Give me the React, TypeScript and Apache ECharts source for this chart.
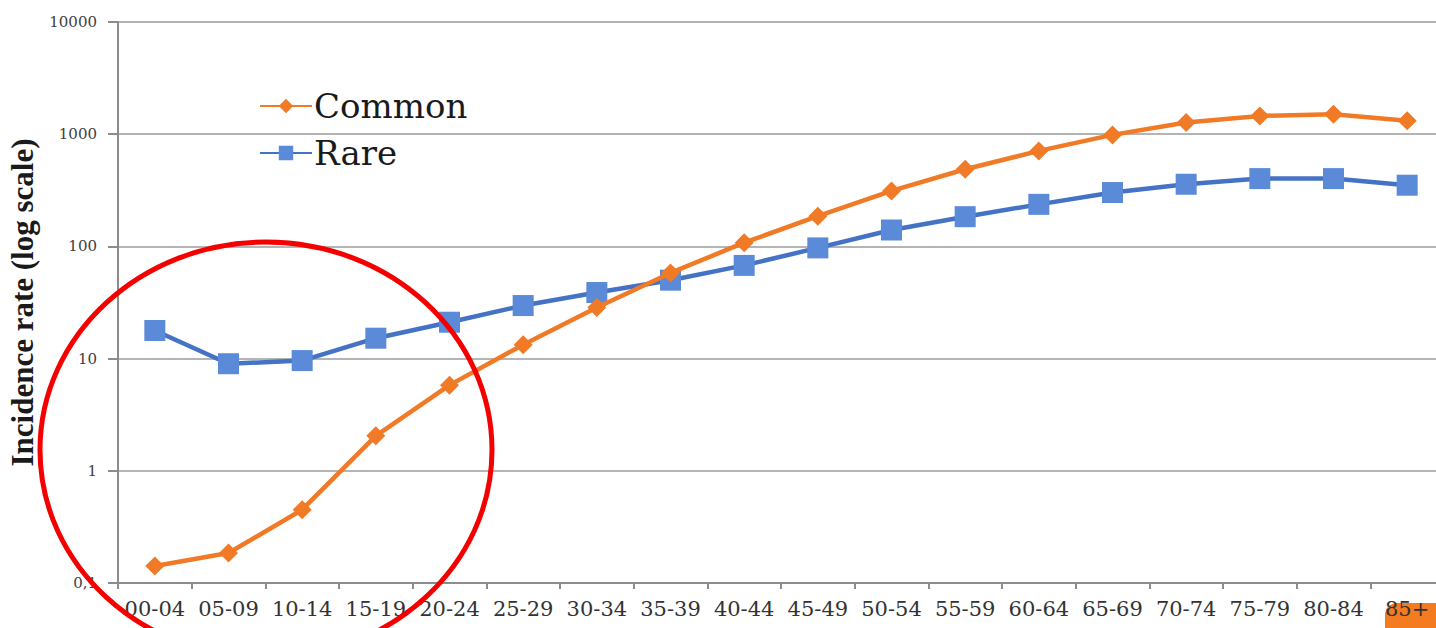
import React, { useEffect, useRef } from "react";
import * as echarts from "echarts";

const categories = [
  "00-04", "05-09", "10-14", "15-19", "20-24", "25-29", "30-34", "35-39", "40-44",
  "45-49", "50-54", "55-59", "60-64", "65-69", "70-74", "75-79", "80-84", "85+",
];
const commonValues = [
  0.142, 0.185, 0.45, 2.05, 5.8, 13.3, 28.5, 58, 108, 186, 312, 487, 710, 986, 1271, 1456, 1509, 1315,
];
const rareValues = [
  17.8, 9.0, 9.6, 15.2, 21.1, 29.7, 38.8, 50, 67.7, 97, 140, 184, 237, 302, 358, 402, 402, 351,
];
const seriesNames = ["Common", "Rare"];
const yAxisTitle = "Incidence rate (log scale)";

const ORANGE = "#F07A26";
const BLUE = "#4472C4";
const BLUE_MARK = "#5A8AD8";

export default function App() {
  const ref = useRef<HTMLDivElement>(null);
  useEffect(() => {
    if (!ref.current) return;
    const chart = echarts.init(ref.current, undefined, { renderer: "svg" });
    chart.setOption({
      animation: false,
      backgroundColor: "#ffffff",
      grid: { left: 118, right: -8, top: 22, bottom: 45, outerBoundsMode: "none", containLabel: false },
      legend: {
        orient: "vertical",
        left: 254,
        top: 84,
        itemWidth: 52,
        itemHeight: 18,
        itemGap: 13,
        data: seriesNames,
        textStyle: { fontFamily: "DejaVu Serif", fontSize: 34, color: "#1a1a1a", padding: [0, 0, 0, -3] },
      },
      xAxis: {
        type: "category",
        data: categories,
        boundaryGap: true,
        axisLine: { lineStyle: { color: "#8c8c8c", width: 2 } },
        axisTick: { show: true, length: 6, lineStyle: { color: "#8c8c8c", width: 2 } },
        axisLabel: {
          interval: 0,
          margin: 15,
          fontFamily: "DejaVu Serif",
          fontSize: 21,
          color: "#333333",
        },
        splitLine: { show: false },
      },
      yAxis: {
        type: "log",
        logBase: 10,
        min: 0.1,
        max: 10000,
        name: yAxisTitle,
        nameLocation: "middle",
        nameRotate: 90,
        nameGap: 78,
        nameTextStyle: {
          fontFamily: "Liberation Serif",
          fontWeight: "bold",
          fontSize: 31,
          color: "#1a1a1a",
        },
        axisLine: { show: true, lineStyle: { color: "#8c8c8c", width: 2 } },
        axisTick: { show: true, length: 10, lineStyle: { color: "#8c8c8c", width: 2 } },
        axisLabel: {
          margin: 21,
          fontFamily: "DejaVu Serif",
          fontSize: 15,
          color: "#404040",
          formatter: (v: number) => (v < 1 ? String(v).replace(".", ",") : String(Math.round(v))),
        },
        splitLine: { show: true, lineStyle: { color: "#b4b4b4", width: 2 } },
      },
      series: [
        {
          name: seriesNames[0],
          type: "line",
          data: commonValues,
          symbol: "diamond",
          symbolSize: 19,
          lineStyle: { color: ORANGE, width: 4.5 },
          itemStyle: { color: ORANGE },
          z: 3,
        },
        {
          name: seriesNames[1],
          type: "line",
          data: rareValues,
          symbol: "rect",
          symbolSize: 21,
          lineStyle: { color: BLUE, width: 4.5 },
          itemStyle: { color: BLUE_MARK },
          z: 2,
        },
      ],
      graphic: [
        {
          type: "rect",
          z: -10,
          shape: { x: 1385, y: 603, width: 70, height: 40, r: 12 },
          style: { fill: "#F47B20" },
        },
        {
          type: "ellipse",
          z: 100,
          shape: { cx: 266, cy: 450, rx: 226, ry: 208 },
          style: { fill: "none", stroke: "#F50000", lineWidth: 5 },
        },
      ],
    });
    return () => chart.dispose();
  }, []);
  return (
    <div
      ref={ref}
      style={{ position: "fixed", left: 0, top: 0, width: 1436, height: 628 }}
    />
  );
}
